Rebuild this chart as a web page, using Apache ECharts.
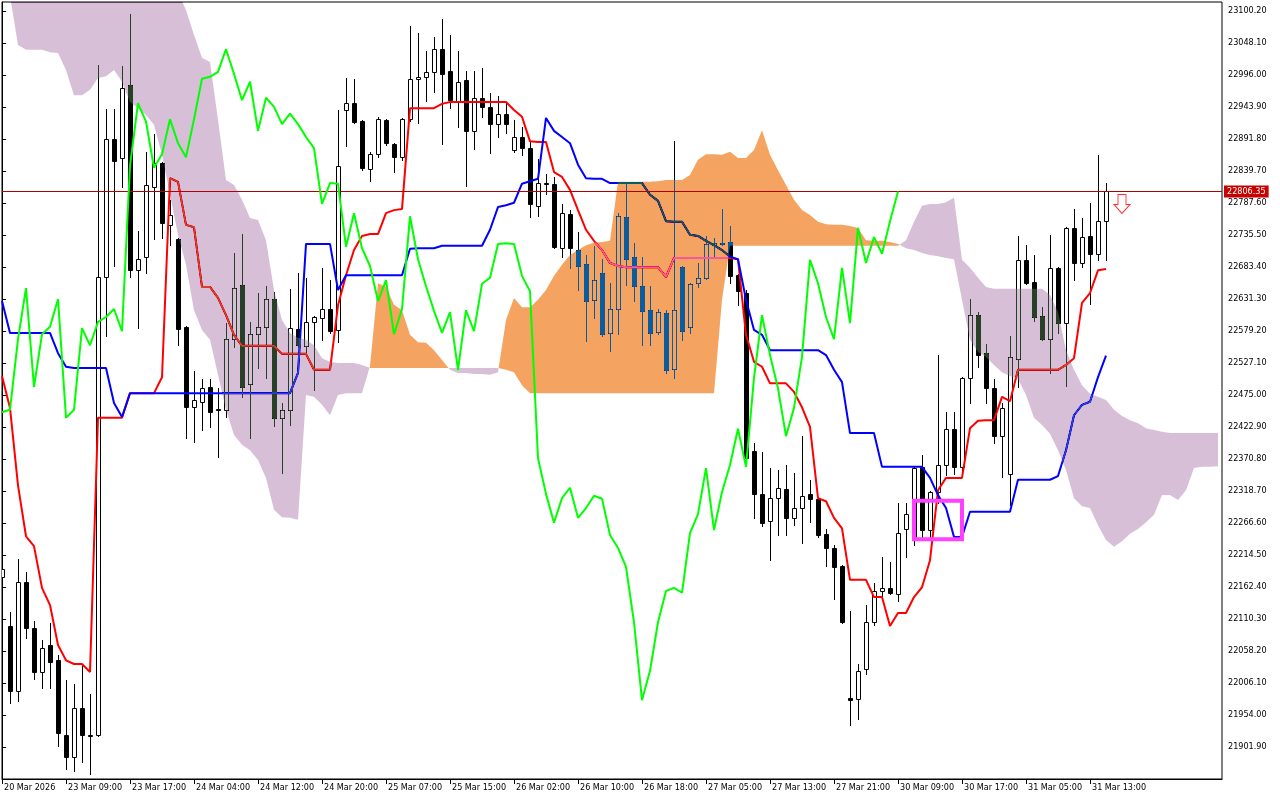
<!DOCTYPE html>
<html><head><meta charset="utf-8">
<script src="https://cdn.jsdelivr.net/npm/echarts@6/dist/echarts.min.js"></script>
<style>html,body{margin:0;padding:0;background:#fff}#c{width:1280px;height:800px}</style>
</head><body><div id="c"></div>
<script>
// ---------- DATA (hourly bars, index 0 = 20 Mar 2026) ----------
const opens = [22179,22099,21993,22170,22096,22024,22068,22043,21921,21886,21965,21921,21921,22667,22892,22861,22980,22679,22700,22814,
22853,22752,22729,22586,22455,22464,22488,22452,22451,22566,22654,22493,22574,22586,22631,22438,22451,22582,22555,22594,
22600,22615,22581,22939,22950,22921,22843,22867,22923,22884,22862,22924,22990,22993,23001,23038,23003,22954,22988,22905,
22959,22944,22916,22933,22874,22895,22877,22783,22820,22819,22714,22770,22711,22688,22630,22674,22576,22615,22765,22700,
22652,22613,22578,22608,22517,22683,22586,22657,22666,22719,22722,22724,22670,22641,22384,22314,22270,22307,22322,22275,
22291,22314,22306,22249,22226,22197,21982,21980,22029,22105,22156,22161,22151,22257,22244,22358,22255,22317,22361,22420,
22358,22503,22605,22543,22486,22408,22346,22534,22695,22659,22604,22566,22682,22592,22747,22690,22734,22705,22758];
const closes = [22192,21993,22170,22096,22024,22063,22040,21925,21886,21965,21921,21920,22667,22892,22856,22975,22679,22696,22817,22853,
22755,22768,22582,22455,22467,22486,22447,22451,22566,22649,22488,22574,22586,22631,22438,22451,22584,22556,22594,22602,
22615,22579,22848,22950,22920,22845,22867,22924,22885,22862,22924,22990,22993,23001,23038,22998,22955,22985,22905,22959,
22944,22916,22933,22916,22895,22877,22786,22820,22819,22716,22771,22714,22685,22628,22662,22574,22615,22766,22696,22652,
22612,22576,22610,22516,22613,22579,22656,22666,22721,22722,22721,22669,22644,22372,22314,22267,22307,22324,22275,22291,
22311,22306,22247,22226,22195,22105,21978,22026,22105,22156,22161,22153,22250,22281,22356,22255,22317,22361,22420,22358,
22503,22605,22540,22486,22408,22454,22537,22695,22657,22602,22566,22682,22592,22747,22690,22732,22705,22758,22806.35];
const lows = [22174,21973,21977,22079,22013,21998,21998,21903,21866,21863,21877,21858,21919,22571,22685,22814,22667,22584,22674,22729,
22731,22719,22556,22405,22398,22418,22423,22374,22439,22553,22472,22405,22519,22503,22425,22348,22426,22553,22543,22483,
22565,22576,22561,22880,22918,22841,22823,22862,22882,22838,22858,22921,22918,22954,22968,22884,22942,22911,22815,22876,
22928,22869,22895,22902,22871,22866,22765,22766,22802,22714,22700,22682,22646,22563,22600,22571,22547,22574,22654,22628,
22556,22556,22574,22511,22503,22565,22576,22651,22664,22698,22719,22657,22622,22371,22275,22262,22206,22247,22247,22263,
22234,22268,22244,22197,22143,22104,21938,21947,22021,22100,22146,22151,22140,22211,22231,22242,22242,22299,22345,22346,
22345,22462,22521,22462,22397,22342,22296,22488,22656,22595,22565,22511,22576,22490,22662,22683,22623,22695,22695];
const highs = [22198,22122,22208,22187,22107,22076,22104,22052,22011,22004,22035,21988,23012,22941,22941,23011,23095,22742,22871,22900,
22855,22793,22731,22588,22514,22501,22501,22486,22592,22706,22737,22594,22641,22653,22643,22462,22648,22674,22666,22604,
22682,22662,22939,22991,22990,22923,22871,22928,22924,22886,22926,23076,23064,23035,23058,23087,23061,23035,23003,23003,
23007,22967,22962,22952,22923,22911,22887,22859,22835,22830,22786,22776,22740,22703,22718,22696,22657,22771,22819,22722,
22700,22652,22615,22613,22889,22685,22657,22690,22734,22731,22778,22750,22672,22646,22397,22382,22356,22353,22361,22348,
22408,22337,22307,22257,22231,22198,22123,22037,22133,22169,22211,22203,22299,22299,22358,22377,22318,22540,22447,22447,
22504,22631,22610,22558,22501,22462,22571,22734,22719,22703,22618,22735,22683,22748,22778,22763,22788,22866,22820];

// Tenkan-sen (red), bars 0..138
const tenkan = [22506,22454,22328,22245,22229,22161,22133,22068,22043,22037,22037,22024,22438,22438,22438,22438,22478,22478,22478,22478,
22504,22828,22822,22752,22748,22651,22651,22633,22605,22573,22555,22555,22555,22555,22555,22542,22542,22542,22542,22516,
22516,22516,22621,22670,22711,22734,22737,22737,22771,22776,22778,22942,22942,22942,22942,22949,22952,22952,22952,22952,
22952,22952,22952,22952,22939,22928,22888,22887,22887,22838,22830,22809,22776,22744,22726,22711,22690,22685,22683,22683,
22683,22683,22683,22667,22698,22698,22698,22698,22698,22698,22698,22698,22696,22573,22529,22521,22494,22494,22494,22480,
22455,22423,22307,22302,22275,22258,22174,22174,22174,22146,22146,22099,22120,22120,22146,22162,22206,22320,22340,22340,
22340,22421,22433,22434,22434,22472,22465,22516,22516,22516,22516,22516,22516,22524,22535,22625,22641,22678,22680];
// Kijun-sen (blue), bars 0..138
const kijun = [22628,22576,22576,22576,22576,22576,22576,22543,22521,22519,22519,22519,22519,22519,22462,22439,22478,22478,22478,22478,
22478,22478,22478,22478,22478,22478,22478,22478,22478,22478,22478,22478,22478,22478,22478,22478,22478,22511,22721,22721,
22721,22721,22646,22670,22670,22670,22670,22670,22670,22670,22670,22713,22714,22714,22714,22718,22718,22718,22718,22718,
22718,22744,22781,22784,22788,22819,22823,22827,22926,22905,22895,22885,22850,22828,22827,22827,22820,22820,22820,22820,
22820,22801,22791,22758,22757,22757,22736,22734,22726,22719,22711,22700,22696,22630,22581,22573,22548,22548,22548,22548,
22548,22548,22548,22540,22516,22496,22413,22413,22413,22413,22358,22358,22358,22358,22358,22358,22340,22312,22291,22244,
22244,22285,22285,22285,22285,22285,22285,22337,22337,22337,22337,22337,22343,22385,22442,22459,22464,22504,22539];
// Chikou span (lime), plotted on bars 0..112
const chikou = [22447,22451,22566,22649,22488,22574,22586,22631,22438,22451,
22584,22556,22594,22602,22615,22579,22848,22950,22920,22845,
22867,22924,22885,22862,22924,22990,22993,23001,23038,22998,
22955,22985,22905,22959,22944,22916,22933,22916,22895,22877,
22786,22820,22819,22716,22771,22714,22685,22628,22662,22574,
22615,22766,22696,22652,22612,22576,22610,22516,22613,22579,
22656,22666,22721,22722,22721,22669,22644,22372,22314,22267,
22307,22324,22275,22291,22311,22306,22247,22226,22195,22105,
21978,22026,22105,22156,22161,22153,22250,22281,22356,22255,
22317,22361,22420,22358,22503,22605,22540,22486,22408,22454,
22537,22695,22657,22602,22566,22682,22592,22747,22690,22732,
22705,22758,22806.35];
// Senkou span A / B, plotted on bars 0..152
const spanA = [23125,23125,23045,23037,23037,23037,23033,23032,23004,22963,22963,22972,22991,22994,23004,22985,22952,22942,22931,22915,
22866,22801,22736,22687,22613,22581,22565,22508,22451,22410,22394,22385,22369,22340,22288,22276,22275,22272,22475,22472,
22459,22442,22475,22478,22478,22478,22522,22657,22651,22622,22613,22573,22561,22560,22548,22532,22516,22511,22511,22509,
22509,22508,22512,22597,22633,22618,22618,22630,22646,22669,22687,22703,22711,22719,22723,22724,22726,22822,22822,22822,
22822,22822,22823,22825,22825,22825,22833,22858,22867,22867,22866,22871,22861,22861,22874,22906,22866,22841,22817,22793,
22776,22768,22757,22753,22752,22752,22750,22747,22727,22726,22726,22724,22721,22714,22711,22706,22703,22701,22698,22696,
22630,22565,22545,22537,22524,22512,22506,22501,22475,22438,22426,22412,22385,22353,22307,22294,22291,22263,22239,22228,
22237,22249,22257,22268,22280,22312,22312,22304,22320,22356,22358,22358,22359];
const spanB = [23130,23130,23130,23130,23130,23130,23130,23130,23130,23130,23130,23130,23130,23130,23130,23130,23130,23130,23130,23130,
23130,23130,23130,23102,23061,23024,23017,22923,22825,22817,22793,22763,22760,22727,22646,22597,22576,22568,22565,22556,
22535,22529,22527,22527,22527,22524,22519,22519,22519,22519,22519,22519,22519,22519,22519,22519,22519,22519,22519,22519,
22519,22519,22519,22516,22512,22491,22478,22478,22478,22478,22478,22478,22478,22478,22478,22478,22478,22478,22478,22478,
22478,22478,22478,22478,22478,22478,22478,22478,22478,22478,22630,22718,22718,22718,22718,22718,22718,22718,22718,22718,
22718,22718,22718,22718,22718,22718,22718,22718,22718,22718,22718,22718,22718,22727,22757,22783,22786,22786,22789,22796,
22695,22682,22666,22651,22648,22648,22648,22648,22648,22648,22648,22638,22610,22548,22516,22491,22477,22472,22467,22451,
22441,22434,22429,22421,22418,22415,22413,22413,22413,22413,22413,22413,22413];

const timeTickBars = [0,8,16,24,32,40,48,56,64,72,80,88,96,104,112,120,128,136];
const timeTickLabels = ['20 Mar 2026','23 Mar 09:00','23 Mar 17:00','24 Mar 04:00','24 Mar 12:00','24 Mar 20:00','25 Mar 07:00',
'25 Mar 15:00','26 Mar 02:00','26 Mar 10:00','26 Mar 18:00','27 Mar 05:00','27 Mar 13:00','27 Mar 21:00','30 Mar 09:00',
'30 Mar 17:00','31 Mar 05:00','31 Mar 13:00'];
const priceTicks = [23100.20,23048.10,22996.00,22943.90,22891.80,22839.70,22787.60,22735.50,22683.40,22631.30,22579.20,22527.10,
22475.00,22422.90,22370.80,22318.70,22266.60,22214.50,22162.40,22110.30,22058.20,22006.10,21954.00,21901.90];
const lastPrice = 22806.35;
const boxBars = [114, 120];
const boxPrices = [22303, 22240];
const arrowPoint = [140, 22786];

// ---------- CHART ----------
const FONT = '"DejaVu Sans Condensed", "Liberation Sans", sans-serif';
const candleData = opens.map((o, i) => [i, o, closes[i], lows[i], highs[i]]);

// split the cloud into contiguous same-sign polygons (A above B -> sandy, B above A -> thistle)
function cloudRuns(a, b) {
  const runs = []; let cur = null;
  for (let i = 0; i < Math.min(a.length, b.length); i++) {
    const d = a[i] - b[i], up = d >= 0;
    if (!cur) { cur = {up, top: [[i, a[i]]], bot: [[i, b[i]]]}; continue; }
    if (up === cur.up) { cur.top.push([i, a[i]]); cur.bot.push([i, b[i]]); continue; }
    const d0 = a[i-1] - b[i-1], t = d0 / (d0 - d);
    const xc = i - 1 + t, vc = a[i-1] + t * (a[i] - a[i-1]);
    cur.top.push([xc, vc]); cur.bot.push([xc, vc]); runs.push(cur);
    cur = {up, top: [[xc, vc], [i, a[i]]], bot: [[xc, vc], [i, b[i]]]};
  }
  if (cur) runs.push(cur);
  return runs.map(r => ({up: r.up, pts: r.top.concat(r.bot.slice().reverse())}));
}
const runs = cloudRuns(spanA, spanB);

const chart = echarts.init(document.getElementById('c'), null, {renderer: 'canvas'});
chart.setOption({
  animation: false,
  backgroundColor: '#ffffff',
  grid: {left: 2, top: 2, right: 58, bottom: 21, show: true, borderColor: '#000', borderWidth: 1, backgroundColor: 'transparent'},
  xAxis: {
    type: 'value', min: 0, max: 152.5,
    axisLine: {show: true, lineStyle: {color: '#000', width: 1}},
    splitLine: {show: false},
    axisTick: {show: true, customValues: timeTickBars, length: 5, lineStyle: {color: '#000'}},
    axisLabel: {show: true, customValues: timeTickBars, align: 'left', margin: 4, padding: [0, 0, 0, 2],
      color: '#000', fontSize: 9, fontFamily: FONT,
      formatter: v => timeTickLabels[timeTickBars.indexOf(Math.round(v))] || ''}
  },
  yAxis: {
    type: 'value', position: 'right', min: 21849.8, max: 23114.84, scale: true,
    axisLine: {show: true, lineStyle: {color: '#000', width: 1}},
    splitLine: {show: false},
    axisTick: {show: true, customValues: priceTicks, length: 4, lineStyle: {color: '#000'}},
    axisLabel: {show: true, customValues: priceTicks, margin: 6, color: '#000', fontSize: 9, fontFamily: FONT,
      formatter: v => v.toFixed(2)}
  },
  series: [
    {
      type: 'custom', name: 'candles', z: 2, clip: true,
      data: candleData, encode: {x: 0, y: [1, 2, 3, 4]},
      renderItem: (params, api) => {
        const i = api.value(0), o = api.value(1), c = api.value(2), l = api.value(3), h = api.value(4);
        const po = api.coord([i, o]), pc = api.coord([i, c]), pl = api.coord([i, l]), ph = api.coord([i, h]);
        const cx = Math.round(po[0]);
        const top = Math.round(Math.min(po[1], pc[1])), bot = Math.round(Math.max(po[1], pc[1]));
        return {type: 'group', children: [
          {type: 'line', shape: {x1: cx + 0.5, y1: Math.round(ph[1]), x2: cx + 0.5, y2: Math.round(pl[1]) + 1},
            style: {stroke: '#000', lineWidth: 1}},
          {type: 'rect', shape: {x: cx - 2 + 0.5, y: top + 0.5, width: 4, height: Math.max(bot - top, 0)},
            style: {fill: c >= o ? '#fff' : '#000', stroke: '#000', lineWidth: 1}}
        ]};
      }
    },
    {
      type: 'line', name: 'Tenkan-sen', z: 3, data: tenkan.map((v, i) => [i, v]), showSymbol: false, symbol: 'none',
      lineStyle: {color: '#ff0000', width: 2}, clip: true,
      markLine: {silent: true, symbol: ['none', 'none'], animation: false,
        data: [{yAxis: lastPrice}],
        lineStyle: {color: '#b00000', width: 1, type: 'solid'},
        label: {show: true, position: 'end', distance: 2, formatter: lastPrice.toFixed(2), color: '#fff',
          backgroundColor: '#c80000', padding: [2, 3, 1, 3], fontSize: 9, fontFamily: FONT}}
    },
    {
      type: 'line', name: 'Kijun-sen', z: 3, data: kijun.map((v, i) => [i, v]), showSymbol: false, symbol: 'none',
      lineStyle: {color: '#0000ff', width: 2}, clip: true
    },
    {
      type: 'custom', name: 'cloud', z: 4, clip: true, blendMode: 'difference',
      data: runs.map((r, k) => [k]),
      renderItem: (params, api) => {
        const r = runs[params.dataIndex];
        return {type: 'polygon', shape: {points: r.pts.map(p => api.coord(p))},
          style: {fill: r.up ? '#0b5b9f' : '#274027', stroke: null}};
      }
    },
    {
      type: 'line', name: 'Chikou', z: 5, data: chikou.map((v, i) => [i, v]), showSymbol: false, symbol: 'none',
      lineStyle: {color: '#00ff00', width: 2}, clip: true
    },
    {
      type: 'custom', name: 'box', z: 6, data: [[boxBars[0], boxPrices[0]]],
      renderItem: (params, api) => {
        const p0 = api.coord([boxBars[0], boxPrices[0]]), p1 = api.coord([boxBars[1], boxPrices[1]]);
        return {type: 'rect', shape: {x: p0[0], y: p0[1], width: p1[0] - p0[0], height: p1[1] - p0[1]},
          style: {fill: null, stroke: '#ff40ff', lineWidth: 4}};
      }
    },
    {
      type: 'scatter', name: 'sell', z: 6, data: [arrowPoint],
      symbol: 'path://M4,0 L12,0 L12,10 L16,10 L8,19 L0,10 L4,10 Z', symbolSize: [16, 19],
      itemStyle: {color: '#ffffff', borderColor: '#ff0000', borderWidth: 1}
    }
  ]
});
</script></body></html>
